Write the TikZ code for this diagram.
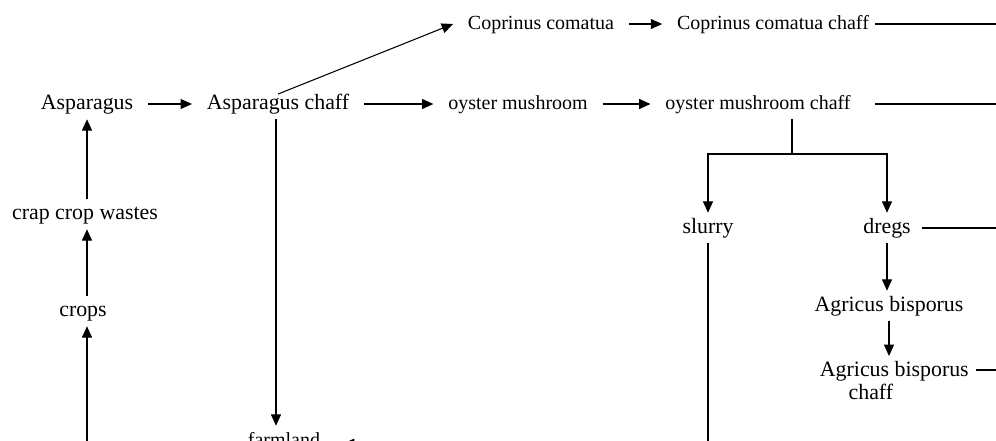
\documentclass[tikz,border=0pt]{standalone}
\usepackage{fontspec}
\setmainfont{Liberation Serif}
\usetikzlibrary{arrows.meta, positioning, calc}

\begin{document}
\begin{tikzpicture}[
  x=0.75pt, y=-0.75pt,
  stage/.style={
    font=\fontsize{#1pt}{17.25pt}\selectfont, inner xsep=11pt, inner ysep=4pt,
    text height=11pt, text depth=3.5pt,
  },
  stage/.default=15,
  stagetwo/.style={
    font=\fontsize{16.4pt}{17.25pt}\selectfont, inner xsep=5pt, inner ysep=4pt, align=left,
  },
  link/.style={line width=0.8pt},
  feed/.style={link, -{Triangle[length=8.5pt,width=7.5pt]}},
]
  \useasboundingbox (0,0) rectangle (996,440);
  \clip (0,0) rectangle (996,440);

  % Left column: crops up to asparagus
  \node[stage=16.4] (asp) at (87,104) {Asparagus};
  \node[stage=16.4] (waste) at (85,214) {crap crop wastes};
  \node[stage=16.4] (crops) at (83,311) {crops};
  \coordinate (b0) at (87,470);

  % Chaff chain
  \node[stage=16.4] (aspchaff) at (278,104) {Asparagus chaff};
  \node[stage] (cop) at (541,24) {Coprinus comatua};
  \node[stage] (copchaff) at (773,24) {Coprinus comatua chaff};
  \node[stage] (oyster) at (518,104) {oyster mushroom};
  \node[stage] (oysterchaff) at (758,104) {oyster mushroom chaff};

  % Split below oyster mushroom chaff
  \coordinate (split) at (792,154);
  \node[stage=16.4] (slurry) at (708,228) {slurry};
  \node[stage=16.4] (dregs) at (887,228) {dregs};
  \node[stage=16.4] (agri) at (889,306) {Agricus bisporus};
  \node[stagetwo, anchor=north west] (agrichaff) at (813,356) {Agricus bisporus\\\hspace*{21.5pt}chaff};

  \node[stage] (farm) at (284,441) {farmland};

  % Return lines leaving the frame on the right
  \coordinate (r1) at (1010,24);
  \coordinate (r2) at (1010,104);
  \coordinate (r3) at (1010,228);
  \coordinate (r4) at (1010,370);

  % Arrows
  \draw[feed] (b0) -- (b0 |- crops.south);
  \draw[feed] (crops.north -| b0) -- (waste.south -| b0);
  \draw[feed] (waste.north -| b0) -- (asp.south -| b0);
  \draw[feed] (asp) -- (aspchaff);
  \draw[feed] ([yshift=-4pt]aspchaff.north) -- (cop.west);
  \draw[feed] (cop) -- (copchaff);
  \draw[feed] (aspchaff) -- (oyster);
  \draw[feed] (oyster) -- (oysterchaff);
  \draw[link, shorten <=-6.5pt] (copchaff) -- (r1);
  \draw[link, shorten <=7pt] (oysterchaff) -- (r2);
  \draw[link] (oysterchaff.south -| split) -- (split);
  \draw[feed] (split) -| (slurry);
  \draw[feed] (split) -| (dregs);
  \draw[link, shorten <=-2.8pt] (dregs) -- (r3);
  \draw[feed] (dregs.south) -- (dregs.south |- agri.north);
  \draw[feed] (agri.south) -- (agri.south |- agrichaff.north);
  \draw[link] (agrichaff.east |- r4) -- (r4);
  \draw[feed] ([xshift=-1.5pt]aspchaff.south) -- ([xshift=-1.5pt]aspchaff.south |- farm.north);
  \draw[feed, shorten >=6pt] (slurry) |- ([yshift=-2pt]farm.east);
\end{tikzpicture}
\end{document}
